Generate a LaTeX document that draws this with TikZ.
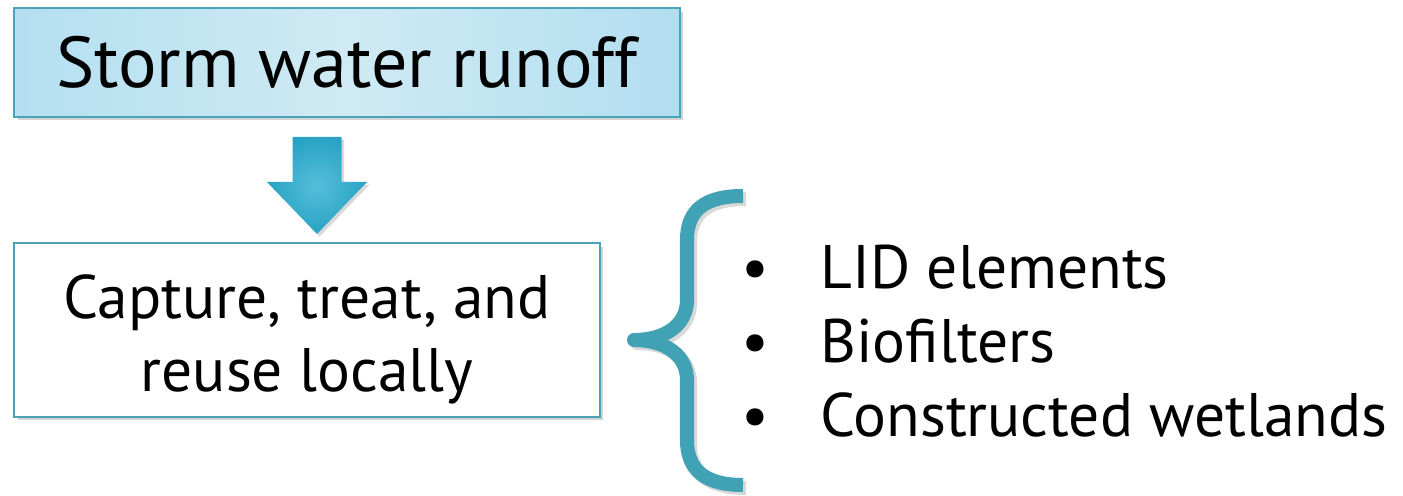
\documentclass[tikz,border=0pt]{standalone}
\usepackage{fontspec}
\setmainfont{PT Sans}
\usetikzlibrary{positioning, shadows, calc}

\definecolor{boxedge}{RGB}{74,163,184}
\definecolor{skyL}{RGB}{180,223,240}
\definecolor{skyM}{RGB}{207,234,244}
\definecolor{skyR}{RGB}{178,222,240}
\definecolor{arrowin}{RGB}{86,190,219}
\definecolor{arrowout}{RGB}{40,163,195}
\definecolor{bracecol}{RGB}{65,161,181}

\begin{document}
\begin{tikzpicture}[x=0.02cm, y=-0.02cm, semithick,
    box/.style={draw=boxedge, line width=1.2pt, inner sep=0pt, align=center,
      drop shadow={opacity=0.35, shadow xshift=2pt, shadow yshift=-2pt}},
    item/.style={anchor=base west, inner sep=0pt, font=\fontsize{35}{40}\selectfont}]
  \useasboundingbox (0,0) rectangle (1403,496);

  % the two boxes
  \node[box, left color=skyL, right color=skyR, middle color=skyM,
        minimum width=13.32cm, minimum height=2.18cm,
        font=\fontsize{41}{46}\selectfont] (runoff) at (347,62.5) {Storm water runoff};
  \node[box, fill=white, minimum width=11.72cm, minimum height=3.48cm,
        font=\fontsize{35}{41.5}\selectfont] (capture) at (307,330)
        {\rule{0pt}{36pt}Capture, treat, and\\reuse locally};

  % block arrow between them
  \coordinate (atop) at (317,137);
  \coordinate (atip) at (317,234);
  \shade[inner color=arrowin, outer color=arrowout,
         drop shadow={opacity=0.3, shadow xshift=1.5pt, shadow yshift=-1.5pt}]
    ($(atop)+(-24.5,0)$) -- ($(atop)+(24.5,0)$) -- ($(atip)+(24.5,-52)$)
    -- ($(atip)+(50,-52)$) -- (atip) -- ($(atip)+(-50,-52)$)
    -- ($(atip)+(-24.5,-52)$) -- cycle;

  % curly brace
  \coordinate (cusp) at (634,340);
  \draw[black, opacity=0.15, line width=8pt, line join=round]
    (746,199) .. controls (708,199) and (690,213) .. (690,243) -- (690,303)
    .. controls (690,328) and (668,343) .. ($(cusp)+(3,3)$)
    .. controls (668,343) and (690,358) .. (690,383) -- (690,443)
    .. controls (690,473) and (708,488) .. (746,488);
  \draw[bracecol, line width=8pt, line join=round]
    (743,196) .. controls (705,196) and (687,210) .. (687,240) -- (687,300)
    .. controls (687,325) and (665,340) .. (cusp)
    .. controls (665,340) and (687,355) .. (687,380) -- (687,440)
    .. controls (687,470) and (705,485) .. (743,485);

  % list
  \node[item] (lid) at (741,289) {\makebox[1.58cm][l]{\textbullet}LID elements};
  \node[item] (bio) at (741,363) {\makebox[1.58cm][l]{\textbullet}Biofilters};
  \node[item] (wet) at (741,437) {\makebox[1.58cm][l]{\textbullet}Constructed wetlands};
\end{tikzpicture}
\end{document}
